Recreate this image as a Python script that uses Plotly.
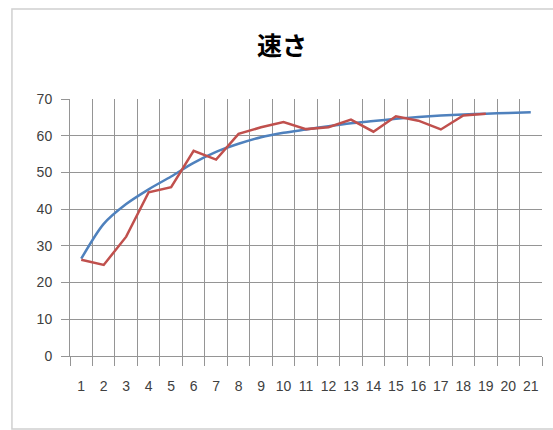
import plotly.graph_objects as go

categories = [str(i) for i in range(1, 22)]
actual = [26.2, 24.8, 32.5, 44.6, 46.0, 55.9, 53.5, 60.5, 62.3, 63.7, 61.8, 62.3,
          64.4, 61.1, 65.3, 64.1, 61.7, 65.5, 66.0]
trend = [26.5, 36.0, 41.4, 45.4, 48.9, 52.6, 55.6, 57.8, 59.6, 60.8, 61.7, 62.6,
         63.4, 64.0, 64.6, 65.1, 65.5, 65.8, 66.0, 66.2, 66.4]
y_ticks = [0, 10, 20, 30, 40, 50, 60, 70]
title_text = "速さ"

fig = go.Figure()
fig.add_trace(go.Scatter(x=categories, y=trend, mode="lines",
                         line=dict(color="#4F81BD", width=2.5, shape="spline", smoothing=0.8),
                         showlegend=False))
fig.add_trace(go.Scatter(x=categories[:len(actual)], y=actual, mode="lines",
                         line=dict(color="#C0504D", width=2.5), showlegend=False))

grid = "#959595"
tickfont = dict(family="Liberation Sans, Arial, sans-serif", size=14, color="#404040")
fig.update_layout(
    width=553, height=430,
    margin=dict(l=70, r=11, t=99, b=74),
    paper_bgcolor="white", plot_bgcolor="white",
    title=dict(text="<b>" + title_text + "</b>", xref="container", yref="container",
               x=0.51, y=0.893, xanchor="center", yanchor="middle",
               font=dict(family="Noto Sans CJK JP", size=25, color="#000000")),
    xaxis=dict(type="category", categoryorder="array", categoryarray=categories,
               range=[-0.5, len(categories) - 0.5],
               tickson="boundaries", showgrid=True, gridcolor=grid, gridwidth=1,
               showline=True, linecolor=grid, linewidth=1,
               ticks="outside", ticklen=9, tickcolor=grid, tickangle=0,
               tickfont=tickfont, ticklabelstandoff=17, fixedrange=True,
               zeroline=False),
    yaxis=dict(range=[0, 70], tickvals=y_ticks, ticktext=[str(v) for v in y_ticks],
               showgrid=True, gridcolor=grid, gridwidth=1,
               showline=True, linecolor=grid, linewidth=1,
               ticks="outside", ticklen=8, tickcolor=grid,
               tickfont=tickfont, ticklabelstandoff=6, zeroline=False),
    shapes=[dict(type="rect", xref="paper", yref="paper",
                 x0=-0.123, x1=1.2, y0=-0.284, y1=1.35,
                 line=dict(color="#d0d0d0", width=1.5), fillcolor="rgba(0,0,0,0)",
                 layer="below")],
)

fig.write_html("out.html")
